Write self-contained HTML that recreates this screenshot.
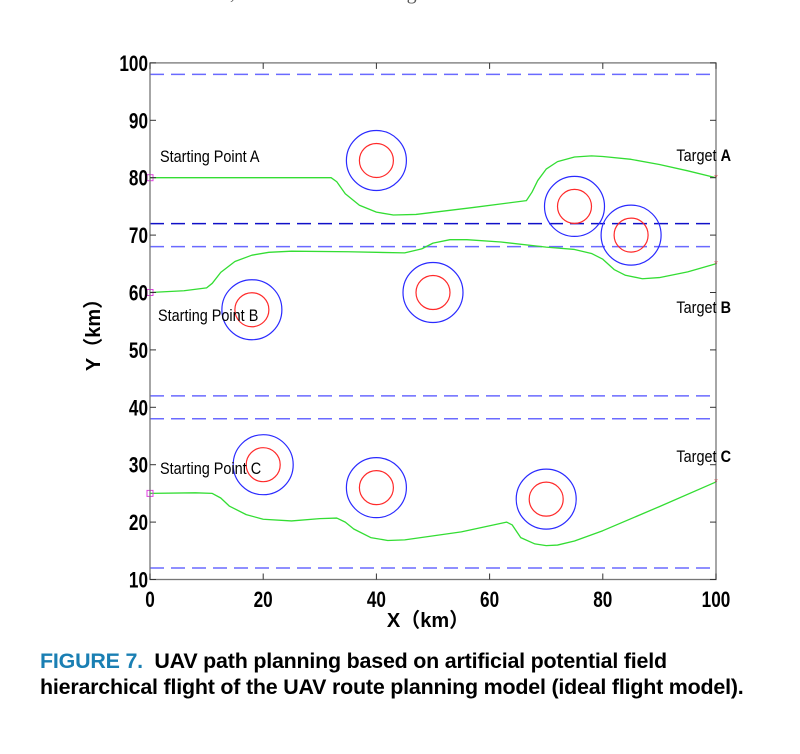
<!DOCTYPE html>
<html><head><meta charset="utf-8"><style>
body{margin:0;background:#fff;width:800px;height:754px;overflow:hidden;position:relative;font-family:"Liberation Sans",sans-serif}
.cap{position:absolute;left:40px;font-weight:bold;font-size:21px;color:#000;letter-spacing:-0.2px;transform:scaleX(1.02);transform-origin:left;white-space:nowrap}
</style></head><body>
<div style="position:absolute;left:60px;top:-18px;font-family:'Liberation Serif',serif;font-size:20px;color:#555">Gaussian white noise, which is shown in Fig. 6.</div>
<svg width="800" height="640" style="position:absolute;left:0;top:0">
<g id="g"></g>
</svg>
<div class="cap" style="top:650px"><span style="color:#1a7fb3">FIGURE 7.</span>&nbsp; UAV path planning based on artificial potential field</div>
<div class="cap" style="top:676px">hierarchical flight of the UAV route planning model (ideal flight model).</div>
<script>
const xTicks=[0,20,40,60,80,100];
const yTicks=[10,20,30,40,50,60,70,80,90,100];
const boundaryY=[98,72,68,42,38,12];
const boundaryColors=['#6a6aff','#1010c8','#6a6aff','#6a6aff','#6a6aff','#6a6aff'];
const obstacleX=[40,75,85,18,50,20,40,70];
const obstacleY=[83,75,70,57,60,30,26,24];
const pathAX=[0,32,33,34.5,37,40,43,47,57,66.5,67.5,68.5,70,72,75,78,80,85,90,95,100];
const pathAY=[80,80,79.3,77.2,75.2,74,73.5,73.6,74.8,76,77.5,79.5,81.5,82.8,83.6,83.8,83.7,83.2,82.3,81.2,80];
const pathBX=[0,6,10,11,12.5,15,18,21,25,35,45,48,50,53,56,62,70,75,78,80,82,84,87,90,95,100];
const pathBY=[60,60.3,60.8,61.6,63.5,65.4,66.5,67,67.2,67.1,66.9,67.6,68.6,69.2,69.2,68.8,67.9,67.5,66.8,65.8,64,63,62.4,62.6,63.6,65];
const pathCX=[0,8,11,12.5,14,17,20,25,30,33,34.5,36,39,42,45,55,63,64,65.5,68,70,72,75,80,90,100];
const pathCY=[25,25.1,25,24.2,22.8,21.3,20.5,20.2,20.6,20.7,20,18.8,17.3,16.8,16.9,18.3,20,19.5,17.3,16.2,15.9,16,16.7,18.5,22.7,27];
const g=document.getElementById('g');
const X=v=>150+v*5.66, Y=v=>579.5-(v-10)*5.74;
const NS='http://www.w3.org/2000/svg';
function mk(t,a){const e=document.createElementNS(NS,t);for(const k in a)e.setAttribute(k,a[k]);g.appendChild(e);return e;}
let e;
boundaryY.forEach((v,i)=>{e=mk('line',{x1:X(0),x2:X(100),y1:Y(v),y2:Y(v),stroke:boundaryColors[i],'stroke-width':1.5,'stroke-dasharray':'14 7'});

});
obstacleX.forEach((v,i)=>{
e=mk('circle',{cx:X(v),cy:Y(obstacleY[i]),r:30,fill:'none',stroke:'#2a2aff','stroke-width':1.2});


e=mk('circle',{cx:X(v),cy:Y(obstacleY[i]),r:17,fill:'none',stroke:'#ff2a2a','stroke-width':1.2});

});
[[pathAX,pathAY,'a'],[pathBX,pathBY,'b'],[pathCX,pathCY,'c']].forEach(([xs,ys,n])=>{
e=mk('polyline',{points:xs.map((x,i)=>X(x)+','+Y(ys[i])).join(' '),fill:'none',stroke:'#33dd33','stroke-width':1.3,'stroke-linejoin':'round'});


e=mk('rect',{x:X(xs[0])-3,y:Y(ys[0])-3,width:6,height:6,fill:'none',stroke:'#e040e0','stroke-width':1});


e=mk('text',{x:X(100),y:Y(ys[ys.length-1])+3,fill:'red','font-size':9,'text-anchor':'middle'});e.textContent='*';

});
e=mk('rect',{x:X(0),y:Y(100),width:X(100)-X(0),height:Y(10)-Y(100),fill:'none',stroke:'#777','stroke-width':1.3});


xTicks.forEach(v=>{mk('line',{x1:X(v),x2:X(v),y1:Y(10),y2:Y(10)-6,stroke:'#333'});mk('line',{x1:X(v),x2:X(v),y1:Y(100),y2:Y(100)+6,stroke:'#333'});
e=mk('text',{x:X(v),y:607,'font-size':22,'font-weight':'bold','text-anchor':'middle',transform:`translate(${X(v)} 0) scale(0.78 1) translate(${-X(v)} 0)`});e.textContent=v;

});
yTicks.forEach(v=>{mk('line',{x1:X(0),x2:X(0)+6,y1:Y(v),y2:Y(v),stroke:'#333'});mk('line',{x1:X(100),x2:X(100)-6,y1:Y(v),y2:Y(v),stroke:'#333'});
e=mk('text',{x:148,y:Y(v)+8,'font-size':22,'font-weight':'bold','text-anchor':'end',transform:`translate(148 0) scale(0.78 1) translate(-148 0)`});e.textContent=v;

});
function lab(t,x,y,n,anchor){e=mk('text',{x:x,y:y,'font-size':17,'text-anchor':anchor||'start',transform:`translate(${x} 0) scale(0.85 1) translate(${-x} 0)`});e.innerHTML=t;

}
lab('Starting Point A',160,162,'label-start-a');
lab('Starting Point B',158,321,'label-start-b');
lab('Starting Point C',160,474,'label-start-c');
lab('Target <tspan font-weight="bold">A</tspan>',731,161,'label-target-a','end');
lab('Target <tspan font-weight="bold">B</tspan>',731,313,'label-target-b','end');
lab('Target <tspan font-weight="bold">C</tspan>',731,462,'label-target-c','end');
e=mk('text',{x:428,y:627,'font-size':20,'font-weight':'bold','text-anchor':'middle','font-family':'Liberation Sans, Noto Sans CJK SC, sans-serif'});e.textContent='X（km）';


e=mk('text',{x:100,y:330,'font-size':20,'font-weight':'bold','text-anchor':'middle','font-family':'Liberation Sans, Noto Sans CJK SC, sans-serif',transform:'rotate(-90 100 330)'});e.textContent='Y（km）';


</script>
</body></html>
